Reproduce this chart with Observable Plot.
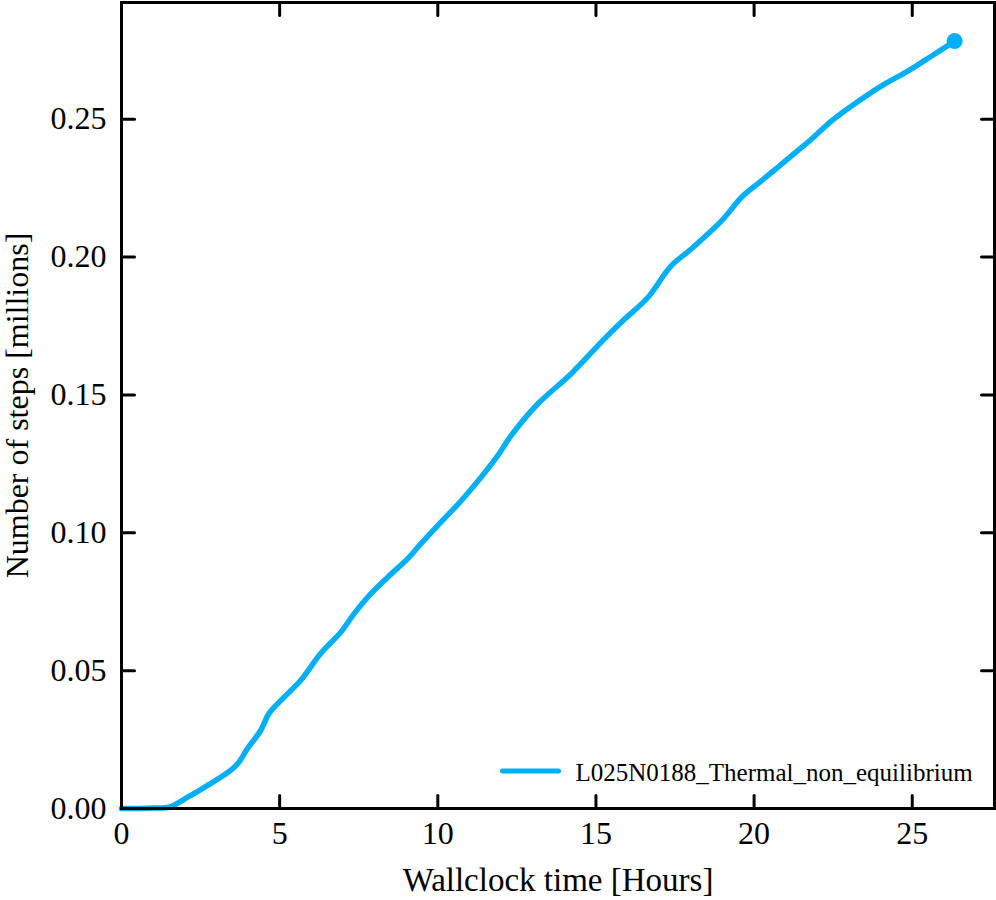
<!DOCTYPE html>
<html>
<head>
<meta charset="utf-8">
<script src="https://cdn.jsdelivr.net/npm/d3@7"></script>
<script src="https://cdn.jsdelivr.net/npm/@observablehq/plot@0.6"></script>
<style>
  body { margin: 0; background: #fff; }
  #chart { width: 996px; }
  #chart svg, #chart svg text { font-family: "Liberation Serif", "Times New Roman", serif !important; }
</style>
</head>
<body>
<div id="chart"></div>
<script>
// Wallclock time [hours]
const hours = [0, 0.5, 1.0, 1.5, 2.08, 2.71, 3.45, 3.71, 3.98, 4.40, 4.66, 5.03, 5.66, 6.29, 6.93, 7.35, 7.78, 8.41, 9.04, 9.46, 10.03, 10.83, 11.89, 12.31, 13.15, 14.21, 15.26, 15.90, 16.64, 17.37, 18.0, 18.96, 19.64, 20.22, 21.17, 21.8, 22.44, 23.07, 24.02, 24.86, 25.6, 26.34];
// Number of steps [millions]
const steps = [0, 0, 0.0002, 0.0005, 0.0040, 0.0083, 0.0138, 0.0168, 0.0217, 0.0283, 0.0344, 0.0391, 0.0464, 0.0561, 0.0639, 0.0706, 0.0766, 0.0838, 0.0905, 0.0960, 0.1030, 0.1128, 0.1279, 0.1351, 0.1466, 0.1576, 0.1702, 0.1774, 0.1853, 0.1967, 0.2028, 0.2130, 0.2221, 0.2275, 0.2366, 0.2426, 0.2493, 0.2547, 0.2620, 0.2674, 0.2728, 0.2783];
const seriesName = "L025N0188_Thermal_non_equilibrium";
const xTicks = [0, 5, 10, 15, 20, 25];
const yTicks = [0, 0.05, 0.10, 0.15, 0.20, 0.25];
const xDomain = [0, 27.6];
const yDomain = [0, 0.2923];

const color = "#00aff5";
const data = hours.map((h, i) => ({h, s: steps[i]}));
const last = [data[data.length - 1]];
const tickShape = {draw(context, l) { context.moveTo(0, 0); context.lineTo(0, -l); }};
const font = "Liberation Serif";

const plot = Plot.plot({
  width: 996,
  height: 900,
  marginLeft: 121,
  marginRight: 2,
  marginTop: 2,
  marginBottom: 92,
  style: {fontFamily: font, background: "#fff", color: "#000"},
  x: {domain: xDomain},
  y: {domain: yDomain},
  marks: [
    Plot.line(data, {x: "h", y: "s", stroke: color, strokeWidth: 5.5, curve: "catmull-rom"}),
    Plot.dot(last, {x: "h", y: "s", r: 8, fill: color, stroke: null}),
    Plot.frame({stroke: "#000", strokeWidth: 3}),
    // inward ticks on all four sides
    Plot.vector(xTicks, {x: d => d, y: yDomain[0], rotate: 0, length: 13, anchor: "start", shape: tickShape, stroke: "#000", strokeWidth: 3}),
    Plot.vector(xTicks, {x: d => d, y: yDomain[1], rotate: 180, length: 13, anchor: "start", shape: tickShape, stroke: "#000", strokeWidth: 3}),
    Plot.vector(yTicks, {x: xDomain[0], y: d => d, rotate: 90, length: 13, anchor: "start", shape: tickShape, stroke: "#000", strokeWidth: 3}),
    Plot.vector(yTicks, {x: xDomain[1], y: d => d, rotate: -90, length: 13, anchor: "start", shape: tickShape, stroke: "#000", strokeWidth: 3}),
    Plot.axisX(xTicks, {tickSize: 0, tickPadding: 13, fontSize: 32, fontFamily: font, label: null, tickFormat: d3.format("d")}),
    Plot.axisY(yTicks, {tickSize: 0, tickPadding: 15, fontSize: 32, fontFamily: font, label: null, tickFormat: d3.format(".2f")}),
    Plot.text(["Wallclock time [Hours]"], {frameAnchor: "bottom", dy: 72, lineAnchor: "middle", fontSize: 33, fontFamily: font, fill: "#000"}),
    Plot.text(["Number of steps [millions]"], {frameAnchor: "left", dx: -104, rotate: -90, lineAnchor: "middle", textAnchor: "middle", fontSize: 32, fontFamily: font, fill: "#000"}),
    // legend
    Plot.vector([seriesName], {frameAnchor: "bottom-left", dx: 381, dy: -37.5, rotate: 90, length: 56, anchor: "start", shape: tickShape, stroke: color, strokeWidth: 5}),
    Plot.text([seriesName], {frameAnchor: "bottom-left", dx: 454, dy: -35.6, textAnchor: "start", lineAnchor: "middle", fontSize: 25, fontFamily: font, fill: "#000"})
  ]
});
document.getElementById("chart").appendChild(plot);
</script>
</body>
</html>
